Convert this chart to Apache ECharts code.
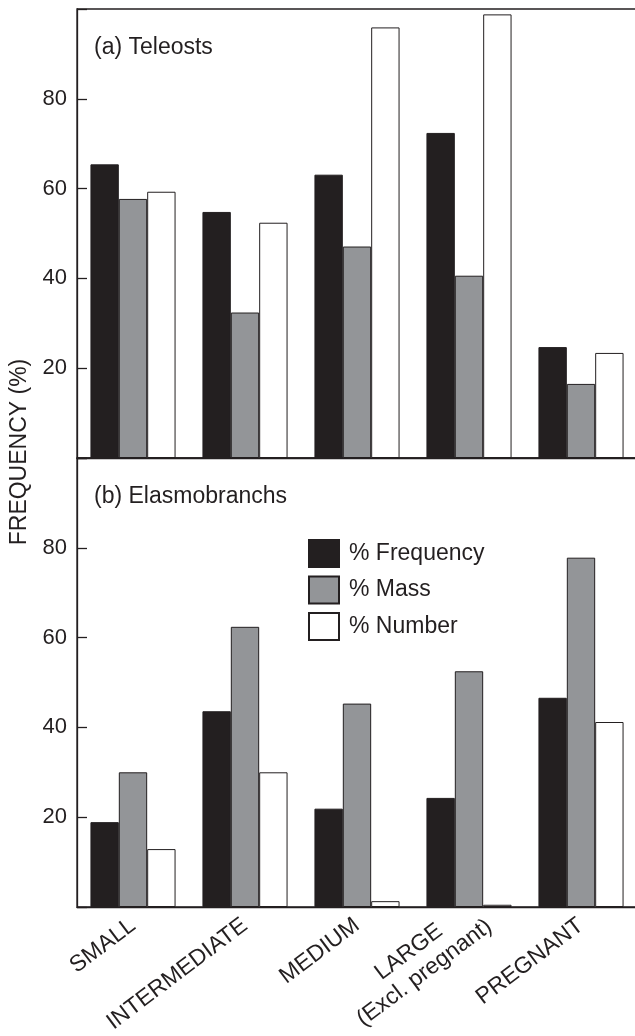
<!DOCTYPE html>
<html>
<head>
<meta charset="utf-8">
<script src="https://cdn.jsdelivr.net/npm/echarts@6/dist/echarts.min.js"></script>
<style>
  html, body { margin: 0; padding: 0; background: #ffffff; }
  #chart { width: 635px; height: 1036px; }
</style>
</head>
<body>
<div id="chart"></div>
<script>
// Prey size classes (shared by both panels)
const categories = ['SMALL', 'INTERMEDIATE', 'MEDIUM', 'LARGE\n(Excl. pregnant)', 'PREGNANT'];
const seriesNames = ['% Frequency', '% Mass', '% Number'];
const panelTitles = ['(a) Teleosts', '(b) Elasmobranchs'];
const yTickLabels = [20, 40, 60, 80];

// (a) Teleosts
const teleostFrequency = [65.4, 54.8, 63.1, 72.4, 24.7];
const teleostMass      = [57.7, 32.4, 47.1, 40.6, 16.5];
const teleostNumber    = [59.3, 52.4, 95.9, 98.8, 23.4];

// (b) Elasmobranchs
const elasmoFrequency = [18.9, 43.6, 21.9, 24.3, 46.6];
const elasmoMass      = [30.0, 62.4, 45.3, 52.5, 77.8];
const elasmoNumber    = [12.9, 30.0, 1.3, 0.5, 41.2];

const INK = '#231f20';
const fills = ['#231f20', '#939598', '#ffffff'];
const FONT = '"Liberation Sans", Arial, Helvetica, sans-serif';

const chart = echarts.init(document.getElementById('chart'), null, { renderer: 'canvas' });

const gridBase = {
  left: 77, width: 560, height: 449,
  show: true, borderColor: INK, borderWidth: 1.3, backgroundColor: 'transparent',
  containLabel: false, outerBoundsMode: 'none'
};

// Multi-line category names are centred line by line and nudged along the slant
const xData = categories.map(c => c.indexOf('\n') >= 0
  ? { value: c, textStyle: { align: 'center', padding: [38, 131, 0, 0] } }
  : c);

function xAxis(idx, showLabels) {
  return {
    type: 'category', gridIndex: idx, data: xData,
    axisLine: { lineStyle: { color: INK, width: 1.3 } },
    axisTick: { inside: true, length: 10, lineStyle: { color: INK, width: 1.3 } },
    axisLabel: {
      show: showLabels, interval: 0, rotate: 37, margin: 16,
      padding: [26, 0, 0, 0],
      color: INK, fontFamily: FONT, fontSize: 23, lineHeight: 26
    },
    splitLine: { show: false }
  };
}

function yAxis(idx) {
  return {
    type: 'value', gridIndex: idx, min: 0, max: 100, interval: 20,
    axisLine: { show: true, lineStyle: { color: INK, width: 1.3 } },
    axisTick: { show: true, inside: true, length: 10, lineStyle: { color: INK, width: 1.3 } },
    axisLabel: {
      margin: 10, color: INK, fontFamily: FONT, fontSize: 22,
      formatter: v => (yTickLabels.indexOf(v) >= 0 ? String(v) : '')
    },
    splitLine: { show: false }
  };
}

function barSeries(name, values, idx, k) {
  return {
    type: 'bar', name: name, data: values,
    xAxisIndex: idx, yAxisIndex: idx,
    barGap: '0%', barCategoryGap: '24%',
    itemStyle: { color: fills[k], borderColor: INK, borderWidth: 1 },
    emphasis: { disabled: true }
  };
}

const panels = [
  [teleostFrequency, teleostMass, teleostNumber],
  [elasmoFrequency, elasmoMass, elasmoNumber]
];

const series = [];
panels.forEach((vals, idx) => {
  vals.forEach((v, k) => series.push(barSeries(seriesNames[k], v, idx, k)));
});

chart.setOption({
  animation: false,
  backgroundColor: '#ffffff',
  textStyle: { fontFamily: FONT, color: INK },
  grid: [
    Object.assign({}, gridBase, { top: 9 }),
    Object.assign({}, gridBase, { top: 458 })
  ],
  xAxis: [xAxis(0, false), xAxis(1, true)],
  yAxis: [yAxis(0), yAxis(1)],
  title: [
    { text: panelTitles[0], left: 94, top: 36, padding: 0,
      textStyle: { fontFamily: FONT, fontSize: 23, fontWeight: 'normal', color: INK } },
    { text: panelTitles[1], left: 94, top: 485, padding: 0,
      textStyle: { fontFamily: FONT, fontSize: 23, fontWeight: 'normal', color: INK } }
  ],
  legend: {
    orient: 'vertical', left: 308, top: 539, padding: 0,
    itemWidth: 30, itemHeight: 27, itemGap: 7.5,
    icon: 'rect', selectedMode: false,
    data: seriesNames,
    textStyle: { fontFamily: FONT, fontSize: 23, color: INK, padding: [0, 0, 0, 5] }
  },
  graphic: [{
    type: 'text', x: 20, y: 452, rotation: Math.PI / 2,
    style: {
      text: 'FREQUENCY (%)', fill: INK, font: '23px ' + FONT,
      textAlign: 'center', textVerticalAlign: 'middle'
    }
  }],
  series: series
});
</script>
</body>
</html>
